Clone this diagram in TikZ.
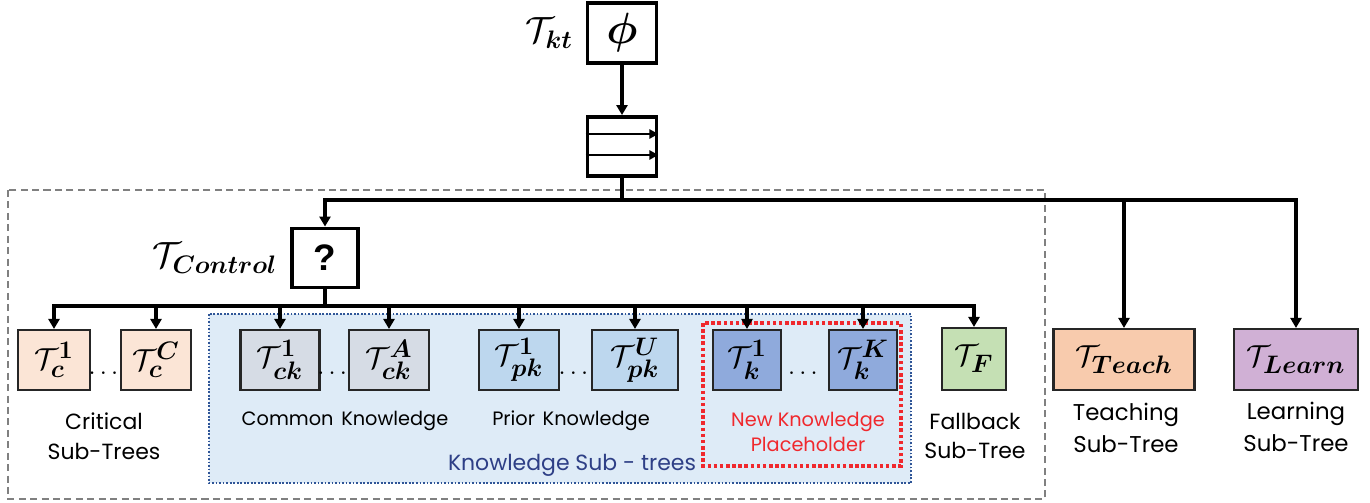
\documentclass[tikz,border=0pt]{standalone}
\usepackage{amsmath}
\usepackage{bm}
\usepackage{fontspec}
\newfontfamily\lblfont{Poppins}
\newfontfamily\qfont{Liberation Sans}
\usetikzlibrary{positioning,arrows.meta,calc}

\definecolor{critfill}{HTML}{FBE5D6}
\definecolor{ckfill}{HTML}{D6DCE5}
\definecolor{pkfill}{HTML}{BDD7EE}
\definecolor{kfill}{HTML}{8FAADC}
\definecolor{fbfill}{HTML}{C5E0B4}
\definecolor{teachfill}{HTML}{F8CBAD}
\definecolor{learnfill}{HTML}{D0B0D5}
\definecolor{ksfill}{HTML}{DEEBF7}
\definecolor{ksline}{HTML}{2F5597}
\definecolor{kstext}{HTML}{2E3F86}
\definecolor{newred}{HTML}{F0282D}

\begin{document}
\begin{tikzpicture}[
            x = 0.02cm, y = -0.02cm,
            every node/.style = {inner sep = 0pt},
            ctlbox/.style = {draw, line width = 2.2pt, minimum width = 1.38cm, minimum height = 1.2cm},
            subbox/.style = {draw = black!85, line width = 1.2pt, minimum height = 1.2cm,
                             font = \fontsize{19}{22}\selectfont},
            bigmath/.style = {font = \fontsize{21}{24}\selectfont},
            lbl/.style = {font = \lblfont\fontsize{12.5}{15}\selectfont, align = center},
            conn/.style = {line width = 2pt},
            arr/.style = {conn, -{Triangle[length = 2mm, width = 2.2mm]}}
            ]
  % regions
  \draw[gray, line width = 1.3pt, dash pattern = on 4pt off 2.5pt] (8,190) rectangle (1045,499);
  \draw[ksline, fill = ksfill, line width = 1.3pt, dash pattern = on 1pt off 1pt] (209,314) rectangle (911,483);
  \draw[newred, line width = 2.2pt, dash pattern = on 2pt off 1.5pt] (703,323) rectangle (901,466);

  % top of the tree
  \node[ctlbox, font = \fontsize{26}{28}\selectfont] (phi) at (622,33) {$\bm{\phi}$};
  \node[bigmath, left = 2.5mm of phi] (ktlbl) {$\mathcal{T}_{\bm{kt}}$};
  \node[ctlbox, minimum height = 1.18cm] (par) at (622,146.5) {};
  \draw[line width = 1.6pt, -{Triangle[length = 1.8mm, width = 1.8mm]}]
        ([yshift = 0.25cm]par.west) -- ([yshift = 0.25cm]par.east);
  \draw[line width = 1.6pt, -{Triangle[length = 1.8mm, width = 1.8mm]}]
        ([yshift = -0.17cm]par.west) -- ([yshift = -0.17cm]par.east);
  \draw[arr] (phi) -- (par);

  \node[ctlbox, minimum width = 1.32cm, minimum height = 1.18cm,
        font = \qfont\bfseries\fontsize{21}{24}\selectfont] (ctrl) at (325,258) {?};
  \node[bigmath, left = 2.5mm of ctrl] (ctrllbl) {$\mathcal{T}_{\bm{Control}}$};

  % sub-trees
  \node[subbox, fill = critfill, minimum width = 1.44cm] (c1) at (54,360) {$\mathcal{T}_{\bm{c}}^{\bm{1}}$};
  \node[subbox, fill = critfill, minimum width = 1.40cm] (cC) at (156,360) {$\mathcal{T}_{\bm{c}}^{\bm{C}}$};
  \node[subbox, fill = ckfill, minimum width = 1.58cm] (ck1) at (280,360) {$\mathcal{T}_{\bm{ck}}^{\bm{1}}$};
  \node[subbox, fill = ckfill, minimum width = 1.60cm] (ckA) at (389,360) {$\mathcal{T}_{\bm{ck}}^{\bm{A}}$};
  \node[subbox, fill = pkfill, minimum width = 1.60cm] (pk1) at (519,360) {$\mathcal{T}_{\bm{pk}}^{\bm{1}}$};
  \node[subbox, fill = pkfill, minimum width = 1.72cm] (pkU) at (635,360) {$\mathcal{T}_{\bm{pk}}^{\bm{U}}$};
  \node[subbox, fill = kfill, minimum width = 1.36cm] (k1) at (747,360) {$\mathcal{T}_{\bm{k}}^{\bm{1}}$};
  \node[subbox, fill = kfill, minimum width = 1.36cm] (kK) at (863,360) {$\mathcal{T}_{\bm{k}}^{\bm{K}}$};
  \node[subbox, fill = fbfill, minimum width = 1.28cm, minimum height = 1.24cm] (fb) at (974,359) {$\mathcal{T}_{\bm{F}}$};
  \node[subbox, fill = teachfill, minimum width = 2.82cm, minimum height = 1.22cm] (teach) at (1124,359.5) {$\mathcal{T}_{\bm{Teach}}$};
  \node[subbox, fill = learnfill, minimum width = 2.48cm, minimum height = 1.22cm] (learn) at (1296,359.5) {$\mathcal{T}_{\bm{Learn}}$};

  % dots between the boxes
  \node[font = \Large] (dots1) at ($(c1.east)!0.5!(cC.west)+(0,14)$) {$\cdots$};
  \node[font = \Large] (dots2) at ($(ck1.east)!0.5!(ckA.west)+(0,14)$) {$\cdots$};
  \node[font = \Large] (dots3) at ($(pk1.east)!0.5!(pkU.west)+(0,14)$) {$\cdots$};
  \node[font = \Large] (dots4) at ($(k1.east)!0.5!(kK.west)+(0,14)$) {$\cdots$};

  % connectors
  \coordinate (topbus) at (622,200);
  \coordinate (ctrlbus) at (325,306);
  \draw[conn] (par) -- (topbus);
  \foreach \n in {ctrl, teach, learn}
    \draw[arr] (topbus) -| (\n.north);
  \draw[conn] (ctrl) -- (ctrlbus);
  \foreach \n in {c1, cC, ck1, ckA, pk1, pkU, k1, kK, fb}
    \draw[arr] (ctrlbus) -| (\n.north);

  % labels
  \node[lbl] (critlbl) at (104,436) {Critical\\[2pt]Sub-Trees};
  \node[lbl, font = \lblfont\fontsize{11}{14}\selectfont] (cklbl) at (345,421) {Common\hspace{0.4em}Knowledge};
  \node[lbl, font = \lblfont\fontsize{11}{14}\selectfont] (pklbl) at (571,421) {Prior\hspace{0.4em}Knowledge};
  \node[lbl, text = newred, font = \lblfont\fontsize{11}{14}\selectfont] (newlbl) at (808,432) {New Knowledge\\Placeholder};
  \node[lbl, text = kstext] (kslbl) at (572,465) {Knowledge Sub - trees};
  \node[lbl] (fblbl) at (975,436) {Fallback\\[2pt]Sub-Tree};
  \node[lbl, font = \lblfont\fontsize{13}{15}\selectfont] (teachlbl) at (1126,428) {Teaching\\[3pt]Sub-Tree};
  \node[lbl, font = \lblfont\fontsize{13}{15}\selectfont] (learnlbl) at (1296,427) {Learning\\[3pt]Sub-Tree};

  \useasboundingbox (0,0) rectangle (1370,503);
\end{tikzpicture}
\end{document}
